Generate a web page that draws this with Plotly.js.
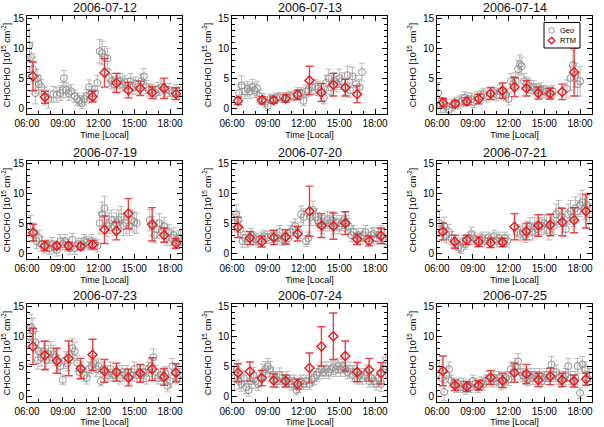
<!DOCTYPE html>
<html>
<head>
<meta charset="utf-8">
<script src="https://cdn.plot.ly/plotly-3.0.1.min.js"></script>
<style>
  html, body { margin: 0; padding: 0; background: #fff; }
  #chart { width: 604px; height: 427px; }
</style>
</head>
<body>
<div id="chart"></div>
<script>
// Daily CHOCHO vertical columns: geometric retrieval (Geo) vs radiative-transfer retrieval (RTM)
const dates = ["2006-07-12", "2006-07-13", "2006-07-14",
               "2006-07-19", "2006-07-20", "2006-07-21",
               "2006-07-23", "2006-07-24", "2006-07-25"];

const xTickVals = [6, 9, 12, 15, 18];
const xTickText = ["06:00", "09:00", "12:00", "15:00", "18:00"];
const yTickVals = [0, 5, 10, 15];
const seriesNames = ["Geo", "RTM"];

// ---- 2006-07-12 ----
const geoT_0712 = [6.2,6.35,6.5,6.7,6.9, 7.0,7.2,7.5,7.8,8.2, 8.5,8.8,9.0,9.1,9.3, 9.5,9.7,10.0,10.2,10.4, 10.6,10.8,11.0,11.2,11.4, 11.7,11.9,12.1,12.3,12.5, 12.75,12.9,13.1,13.3,13.6, 13.8,14.0,14.2,14.4,14.7, 14.9,15.1,15.3,15.6,15.8, 16.0,16.2,16.5,16.8,17.0, 17.3,17.6,17.9,18.2,18.5, 18.8];
const geoV_0712 = [10.5,8.5,6.5,2.5,5.0, 4.0,3.5,2.0,1.5,2.3, 2.2,2.5,3.0,5.0,3.0, 2.5,2.8,2.0,1.5,1.2, 0.8,1.5,2.0,3.5,2.5, 2.5,4.2,9.5,9.2,8.5, 8.3,5.0,4.5,4.0,4.5, 4.5,4.0,4.3,3.8,4.5, 3.5,4.0,3.5,4.5,5.3, 3.5,3.0,3.0,2.5,3.2, 3.5,3.0,3.0,2.5,2.8, 2.5];
const geoE_0712 = [2.7,2.5,2.0,1.8,1.5, 1.5,1.3,1.5,1.5,1.3, 1.2,1.2,1.3,1.3,1.2, 1.2,1.1,1.0,1.0,0.9, 0.9,1.0,1.1,1.2,1.1, 1.2,1.3,2.0,2.0,1.8, 1.7,1.4,1.3,1.3,1.3, 1.3,1.2,1.2,1.2,1.3, 1.2,1.2,1.1,1.2,1.3, 1.1,1.0,1.0,1.0,1.1, 1.2,1.1,1.1,1.0,1.1, 1.0];
const rtmT_0712 = [6.5, 7.5, 11.5, 12.5, 13.5, 14.5, 15.5, 16.5, 17.5, 18.5];
const rtmV_0712 = [5.3, 1.8, 1.9, 5.9, 4.2, 3.0, 3.3, 2.6, 3.3, 2.4];
const rtmE_0712 = [2.4, 1.0, 0.9, 2.4, 1.6, 1.3, 1.2, 1.0, 1.7, 1.0];

// ---- 2006-07-13 ----
const geoT_0713 = [6.6,6.8,7.1,7.3,7.5, 7.7,7.9,8.1,8.3,8.6, 8.8,9.0,9.2,9.4,9.7, 10.0,10.3,10.6,10.9,11.2, 11.5,11.8,12.0,12.2,12.4, 12.7,13.0,13.2,13.5,13.7, 13.9,14.1,14.3,14.6,14.8, 15.0,15.2,15.5,15.7,15.9, 16.1,16.4,16.7,16.9];
const geoV_0713 = [2.5,3.8,2.8,3.2,2.8, 3.5,3.0,3.3,2.0,1.5, 1.0,0.4,1.5,1.5,1.7, 1.8,1.8,1.8,2.0,2.0, 2.5,2.5,1.2,2.8,3.0, 3.5,3.6,3.3,3.0,1.7, 4.2,5.0,3.5,4.5,4.0, 5.0,4.5,3.5,5.5,3.0, 5.3,4.0,3.5,6.0];
const geoE_0713 = [1.5,1.6,1.2,1.2,1.2, 1.3,1.2,1.2,1.0,0.9, 0.8,0.8,0.8,0.8,0.8, 0.8,0.8,0.8,0.8,0.8, 0.9,0.9,0.8,1.0,1.0, 1.2,1.2,1.2,1.1,1.0, 1.3,1.5,1.3,1.4,1.3, 1.5,1.4,1.3,1.5,1.2, 1.5,1.4,1.3,1.5];
const rtmT_0713 = [6.5, 8.5, 9.5, 10.5, 11.5, 12.5, 13.5, 14.5, 15.5, 16.5];
const rtmV_0713 = [1.2, 1.3, 1.3, 1.6, 2.2, 4.6, 2.6, 3.9, 3.4, 2.3];
const rtmE_0713 = [0.6, 0.6, 0.5, 0.6, 0.8, 2.4, 1.5, 1.9, 1.4, 1.4];

// ---- 2006-07-14 ----
const geoT_0714 = [6.1,6.3,6.6,6.8,7.0, 7.3,7.6,7.9,8.1,8.3, 8.6,8.9,9.1,9.4,9.7, 9.9,10.2,10.5,10.8,11.0, 11.3,11.6,11.8,12.0,12.2, 12.4,12.6,12.8,12.95,13.1, 13.3,13.5,13.7,13.9,14.1, 14.3,14.5,14.7,14.9,15.1, 15.3,15.5,15.7,16.9,17.2, 17.4,17.6,17.8,18.0];
const geoV_0714 = [2.5,0.5,0.5,0.3,-0.3, 0.5,0.8,1.0,1.2,1.7, 1.5,1.5,1.0,1.8,2.0, 2.3,2.0,2.5,2.5,2.2, 2.8,2.5,2.2,1.5,4.5, 4.0,4.5,6.5,7.3,7.0, 4.5,4.0,3.7,3.5,3.5, 3.0,3.0,3.2,2.8,2.7, 2.5,2.5,2.8,3.2,5.0, 7.2,5.5,4.0,4.5];
const geoE_0714 = [1.8,1.3,1.2,1.1,1.0, 1.0,1.0,1.0,1.0,1.0, 1.0,1.0,0.9,1.0,1.0, 1.0,1.0,1.0,1.0,1.0, 1.1,1.0,1.0,1.0,1.3, 1.3,1.4,1.5,1.6,1.5, 1.3,1.2,1.2,1.1,1.1, 1.0,1.0,1.0,1.0,1.0, 1.0,1.0,1.0,1.5,2.0, 2.5,2.0,2.0,2.5];
const rtmT_0714 = [6.5, 7.5, 8.5, 9.5, 10.5, 11.5, 12.5, 13.5, 14.5, 15.5, 16.5, 17.5];
const rtmV_0714 = [0.9, 0.7, 1.1, 1.5, 2.4, 2.9, 3.5, 3.3, 2.5, 2.4, 2.7, 6.0];
const rtmE_0714 = [0.7, 0.5, 0.6, 0.8, 1.0, 1.3, 1.6, 1.3, 1.0, 0.9, 1.3, 4.0];

// ---- 2006-07-19 ----
const geoT_0719 = [6.3,6.6,6.8,7.0,7.2, 7.4,7.7,7.9,8.1,8.3, 8.5,8.8,9.0,9.2,9.4, 9.6,9.8,10.0,10.3,10.6, 10.8,11.0,11.2,11.4,11.7, 11.9,12.1,12.3,12.5,12.7, 12.9,13.1,13.3,13.5,13.7, 13.9,14.1,14.3,14.6,14.8, 15.0,15.2,16.3,16.5,16.7, 16.9,17.1,17.3,17.5,17.7, 17.9,18.1,18.3,18.5,18.7, 18.9];
const geoV_0719 = [4.5,3.5,2.0,2.5,1.5, 1.0,1.2,0.8,1.5,1.0, 0.5,2.0,1.5,2.0,1.3, 0.8,2.2,0.8,1.5,1.5, 2.0,1.8,1.5,2.0,1.5, 1.2,5.0,6.5,7.5,4.5, 5.0,5.5,4.5,5.0,5.5, 6.0,4.5,5.0,4.5,5.5, 5.2,5.0,5.5,4.5,3.0, 4.0,5.0,3.8,4.5,2.5, 3.5,2.5,3.0,2.0,2.5, 2.5];
const geoE_0719 = [1.8,1.5,1.3,1.3,1.2, 1.0,1.0,1.0,1.1,1.0, 1.0,1.1,1.0,1.1,1.0, 1.0,1.1,1.0,1.0,1.0, 1.1,1.0,1.0,1.1,1.0, 1.0,1.8,2.0,2.0,1.7, 1.7,1.7,1.6,1.7,1.7, 1.8,1.6,1.7,1.6,1.7, 1.7,1.7,1.8,1.6,1.3, 1.5,1.6,1.4,1.5,1.2, 1.3,1.2,1.2,1.1,1.2, 1.2];
const rtmT_0719 = [6.5, 7.5, 8.5, 9.5, 10.5, 11.5, 12.5, 13.5, 14.5, 16.5, 17.5, 18.5];
const rtmV_0719 = [3.4, 1.2, 1.2, 1.2, 1.1, 1.4, 3.9, 3.7, 6.6, 4.8, 3.0, 1.6];
const rtmE_0719 = [1.4, 0.8, 0.5, 0.6, 0.5, 0.7, 2.3, 1.5, 2.5, 2.8, 1.2, 0.8];

// ---- 2006-07-20 ----
const geoT_0720 = [6.2,6.35,6.5,6.7,6.9, 7.1,7.3,7.6,7.8,8.0, 8.2,8.5,8.7,9.0,9.3, 9.6,9.8,10.0,10.2,10.4, 10.7,10.9,11.1,11.3,11.6, 11.8,12.0,12.2,12.4,12.6, 12.8,13.0,13.2,13.4,13.6, 13.8,14.0,14.2,14.4,14.6, 14.8,15.0,15.2,15.4,15.6, 15.8,16.0,16.2,16.4,16.6, 16.8,17.0,17.2,17.4,17.7, 17.9,18.1,18.3,18.5,18.7, 18.9];
const geoV_0720 = [5.0,6.5,5.5,4.0,2.0, 2.5,2.0,3.0,2.5,2.3, 2.0,2.5,2.8,2.6,2.8, 2.5,2.5,3.5,2.3,2.5, 2.4,3.5,4.0,4.5,3.5, 6.5,6.0,2.0,2.5,6.0, 7.2,6.0,5.5,5.0,4.5, 5.0,5.5,5.0,5.5,4.5, 5.0,4.5,5.0,5.5,5.0, 4.5,3.0,3.5,2.5,3.0, 2.5,3.0,3.5,2.5,3.0, 3.2,2.5,3.0,3.5,2.5, 2.0];
const geoE_0720 = [1.5,1.6,1.5,1.3,1.1, 1.1,1.0,1.1,1.0,1.0, 1.0,1.0,1.0,1.0,1.0, 1.0,1.0,1.1,1.0,1.0, 1.0,1.1,1.2,1.2,1.1, 1.4,1.4,0.9,1.0,1.4, 1.5,1.4,1.3,1.3,1.3, 1.3,1.4,1.3,1.4,1.3, 1.3,1.3,1.3,1.4,1.3, 1.3,1.1,1.1,1.0,1.1, 1.0,1.1,1.1,1.0,1.1, 1.1,1.0,1.1,1.1,1.0, 1.0];
const rtmT_0720 = [6.5, 7.5, 8.5, 9.5, 10.5, 11.5, 12.5, 13.5, 14.5, 15.5, 16.5, 17.5, 18.5];
const rtmV_0720 = [4.3, 2.5, 1.9, 2.6, 2.7, 3.2, 7.0, 4.6, 4.5, 5.0, 2.3, 2.0, 2.9];
const rtmE_0720 = [1.7, 1.1, 0.9, 1.2, 1.2, 1.2, 4.2, 2.0, 2.2, 1.9, 0.9, 0.8, 1.3];

// ---- 2006-07-21 ----
const geoT_0721 = [6.2,6.4,6.6,6.8,7.0, 7.2,7.4,7.6,7.8,8.0, 8.2,8.4,8.7,8.9,9.1, 9.3,9.6,9.8,10.0,10.3, 10.5,10.8,11.0,11.2,11.4, 11.7,11.9,12.7,13.0,13.2, 13.4,13.6,13.8,14.0,14.2, 14.4,14.6,14.8,15.0,15.2, 15.4,15.6,15.8,16.0,16.2, 16.4,16.6,16.8,17.0,17.2, 17.4,17.6,17.8,18.0,18.2, 18.4,18.6,18.8];
const geoV_0721 = [5.0,3.5,4.5,3.0,3.5, 2.5,2.0,1.5,1.0,0.8, 2.0,1.5,2.5,3.2,2.5, 2.0,2.2,2.5,2.0,2.5, 2.2,2.8,2.0,2.5,2.0, 2.5,2.0,3.5,3.2,3.5, 3.0,4.0,4.5,3.5,4.5, 4.0,4.5,4.5,5.0,4.8, 3.5,5.0,4.5,6.5,7.0, 6.0,5.0,4.0,6.5,7.0, 6.0,7.5,7.0,8.0,8.5, 7.5,8.0,6.5];
const geoE_0721 = [2.2,1.5,1.5,1.3,1.3, 1.1,1.0,1.0,0.9,0.9, 1.0,0.9,1.0,1.1,1.0, 1.0,1.0,1.0,1.0,1.0, 1.0,1.0,1.0,1.0,1.0, 1.0,1.0,1.2,1.2,1.2, 1.2,1.3,1.4,1.3,1.4, 1.3,1.4,1.4,1.5,1.5, 1.3,1.5,1.4,1.7,1.8, 1.6,1.5,1.3,1.7,1.8, 1.6,1.9,1.8,1.9,2.0, 1.9,2.0,1.7];
const rtmT_0721 = [6.5, 7.5, 8.5, 9.5, 10.5, 11.5, 12.5, 13.5, 14.5, 15.5, 16.5, 17.5, 18.5];
const rtmV_0721 = [3.6, 1.9, 2.2, 1.9, 1.7, 1.8, 4.4, 3.6, 4.6, 4.7, 5.2, 5.5, 7.0];
const rtmE_0721 = [1.4, 1.1, 0.8, 0.8, 0.8, 0.7, 2.2, 1.4, 1.8, 1.8, 2.3, 2.1, 2.8];

// ---- 2006-07-23 ----
const geoT_0723 = [6.2,6.35,6.5,6.7,6.9, 7.0,7.2,7.4,7.6,7.8, 8.0,8.2,8.4,8.6,8.8, 9.0,9.2,9.4,9.6,9.8, 10.0,10.2,10.4,10.6,10.8, 11.0,11.2,11.4,11.6,11.8, 12.0,12.2,12.4,12.6,12.8, 13.0,13.2,13.4,13.6,13.8, 14.0,14.2,14.4,14.6,14.8, 15.0,15.2,15.4,15.6,15.8, 16.0,16.2,16.4,16.6,16.8, 17.0,17.2,17.4,17.6,17.8, 18.0,18.2,18.4,18.6,18.8];
const geoV_0723 = [10.0,11.5,11.0,9.0,6.0, 7.5,6.5,7.5,6.0,7.0, 7.5,7.0,6.5,5.5,5.0, 2.7,6.0,5.5,7.0,8.0, 7.5,5.5,4.0,4.5,3.5, 3.0,4.5,5.0,5.5,4.5, 5.0,2.5,4.5,4.0,3.5, 4.5,3.5,3.5,4.0,3.0, 4.0,3.5,4.0,3.0,3.5, 4.5,3.5,4.0,3.5,4.0, 3.0,4.5,5.0,6.5,4.0, 3.0,3.5,3.0,3.8,1.7, 2.5,5.0,4.0,3.0,3.5];
const geoE_0723 = [2.0,2.2,2.0,1.8,1.5, 1.6,1.5,1.6,1.4,1.5, 1.6,1.5,1.4,1.3,1.3, 0.8,1.4,1.3,1.5,1.6, 1.5,1.3,1.1,1.2,1.0, 1.0,1.2,1.2,1.3,1.2, 1.2,0.8,1.2,1.1,1.0, 1.2,1.0,1.0,1.1,1.0, 1.1,1.0,1.1,1.0,1.0, 1.2,1.0,1.1,1.0,1.1, 1.0,1.2,1.2,1.4,1.1, 1.0,1.0,1.0,1.1,1.0, 1.0,1.3,1.2,1.0,1.1];
const rtmT_0723 = [6.5, 7.5, 8.5, 9.5, 10.5, 11.5, 12.5, 13.5, 14.5, 15.5, 16.5, 17.5, 18.5];
const rtmV_0723 = [8.3, 6.8, 5.9, 6.3, 4.6, 6.9, 4.2, 4.0, 3.1, 3.8, 4.5, 3.2, 3.9];
const rtmE_0723 = [3.0, 2.4, 2.1, 2.9, 1.7, 2.6, 1.9, 1.5, 1.4, 1.5, 1.9, 1.4, 1.5];

// ---- 2006-07-24 ----
const geoT_0724 = [6.2,6.4,6.6,6.8,7.0, 7.2,7.4,7.6,7.8,8.0, 8.2,8.4,8.6,8.8,9.0, 9.2,9.4,9.6,9.8,10.0, 10.2,10.4,10.6,10.8,11.0, 11.2,11.4,11.6,11.8,12.0, 12.2,12.5,12.7,12.9,13.1, 13.3,13.5,13.7,13.9,14.1, 14.3,14.5,14.7,14.9,15.1, 15.3,15.5,15.7,15.9,16.1, 16.3,16.5,16.7,16.9,17.1, 17.3,17.5,17.7,17.9,18.1, 18.3,18.5,18.7,18.9];
const geoV_0724 = [3.0,4.5,2.5,2.0,3.0, 1.5,1.0,2.5,3.5,2.5, 2.0,3.0,4.0,4.5,5.0, 4.5,3.5,3.0,2.5,3.5, 3.0,2.5,3.0,2.5,2.0, 2.5,1.0,1.5,2.5,2.0, 2.5,2.0,2.8,3.0,3.5, 4.0,4.5,4.0,4.5,4.0, 4.5,4.8,4.5,5.0,4.5, 5.0,4.5,4.0,4.5,3.5, 4.0,3.0,3.5,3.0,3.5, 4.0,2.5,3.0,2.5,2.0, 3.0,2.0,4.5,5.0];
const geoE_0724 = [2.0,1.5,1.3,1.2,1.3, 1.1,1.0,1.2,1.3,1.2, 1.1,1.2,1.3,1.3,1.3, 1.3,1.2,1.1,1.1,1.2, 1.1,1.0,1.1,1.0,1.0, 1.0,0.8,0.9,1.0,0.9, 1.0,0.9,1.0,1.1,1.1, 1.2,1.2,1.1,1.2,1.1, 1.2,1.2,1.2,1.2,1.2, 1.2,1.2,1.1,1.2,1.1, 1.1,1.0,1.1,1.0,1.1, 1.2,1.0,1.1,1.0,1.0, 1.2,1.2,2.0,2.0];
const rtmT_0724 = [6.5, 7.5, 8.5, 9.5, 10.5, 11.5, 12.5, 13.5, 14.5, 15.5, 16.5, 17.5, 18.5];
const rtmV_0724 = [3.9, 4.1, 3.0, 2.6, 2.5, 2.0, 4.7, 8.3, 10.0, 6.7, 4.0, 4.4, 3.8];
const rtmE_0724 = [1.5, 1.6, 1.3, 1.1, 1.0, 0.8, 2.5, 3.3, 3.9, 2.5, 1.6, 1.9, 1.8];

// ---- 2006-07-25 ----
const geoT_0725 = [6.2,6.4,6.6,6.8,7.0, 7.2,7.4,7.6,7.8,8.0, 8.2,8.4,8.6,8.8,9.0, 9.2,9.4,9.7,9.9,10.1, 10.3,10.6,10.8,11.0,11.2, 11.4,11.6,11.8,12.0,12.2, 12.4,12.6,12.8,13.0,13.2, 13.4,13.6,13.8,14.0,14.2, 14.4,14.6,14.8,15.0,15.2, 15.4,15.6,15.8,16.0,16.2, 16.4,16.6,16.8,17.0,17.2, 17.4,17.6,17.8,18.0,18.2, 18.4,18.6,18.8];
const geoV_0725 = [4.5,3.0,0.7,3.5,4.5, 2.5,2.0,1.5,2.0,1.5, 2.0,1.2,1.8,1.5,2.5, 2.0,1.5,2.2,2.0,2.5, 3.0,2.5,3.0,2.5,3.0, 2.0,2.5,3.0,2.8,4.5, 4.0,5.0,5.8,4.0,3.5, 3.0,2.8,3.5,3.0,3.5, 3.0,3.5,2.5,3.0,3.5, 3.0,5.3,3.5,4.0,3.0, 2.5,3.0,3.5,5.0,3.0, 2.5,3.0,5.0,0.5,5.3, 4.5,3.0,3.5];
const geoE_0725 = [1.5,1.3,1.5,1.2,1.2, 1.0,1.0,0.9,1.0,0.9, 1.0,0.9,0.9,0.9,1.0, 1.0,0.9,1.0,1.0,1.0, 1.1,1.0,1.1,1.0,1.1, 1.0,1.0,1.1,1.1,1.2, 1.2,1.3,1.3,1.2,1.1, 1.1,1.1,1.1,1.1,1.1, 1.1,1.1,1.0,1.1,1.1, 1.1,1.3,1.1,1.2,1.1, 1.0,1.1,1.1,1.3,1.1, 1.0,1.1,1.3,0.9,1.3, 1.2,1.1,1.1];
const rtmT_0725 = [6.5, 7.5, 8.5, 9.5, 10.5, 11.5, 12.5, 13.5, 14.5, 15.5, 16.5, 17.5, 18.5];
const rtmV_0725 = [4.2, 1.8, 1.6, 1.8, 3.1, 2.6, 3.9, 3.7, 2.7, 3.3, 2.7, 2.5, 2.8];
const rtmE_0725 = [2.5, 0.9, 0.8, 0.8, 1.2, 1.2, 1.6, 1.6, 1.1, 1.4, 1.1, 1.0, 1.0];

const geoT = [geoT_0712, geoT_0713, geoT_0714, geoT_0719, geoT_0720, geoT_0721, geoT_0723, geoT_0724, geoT_0725];
const geoV = [geoV_0712, geoV_0713, geoV_0714, geoV_0719, geoV_0720, geoV_0721, geoV_0723, geoV_0724, geoV_0725];
const geoE = [geoE_0712, geoE_0713, geoE_0714, geoE_0719, geoE_0720, geoE_0721, geoE_0723, geoE_0724, geoE_0725];
const rtmT = [rtmT_0712, rtmT_0713, rtmT_0714, rtmT_0719, rtmT_0720, rtmT_0721, rtmT_0723, rtmT_0724, rtmT_0725];
const rtmV = [rtmV_0712, rtmV_0713, rtmV_0714, rtmV_0719, rtmV_0720, rtmV_0721, rtmV_0723, rtmV_0724, rtmV_0725];
const rtmE = [rtmE_0712, rtmE_0713, rtmE_0714, rtmE_0719, rtmE_0720, rtmE_0721, rtmE_0723, rtmE_0724, rtmE_0725];

// Page geometry (pixels) for the 3x3 panel grid
const W = 604, H = 427;
const colLeft = [27, 232, 437];
const panelW = 155;
const rowTop = [16, 161, 304];
const panelH = 98;
const titleMid = [8, 153, 296];

const FONT = "Liberation Sans, Arial, sans-serif";
const GEO_MARK = "#929292";
const GEO_BAR = "#b8b8b8";
const RTM_COLOR = "#e8191c";
const RTM_BAR = "rgba(235,30,33,0.85)";

const px = (x) => x / W;
const py = (y) => 1 - y / H;

const traces = [];
const layout = {
  width: W, height: H,
  margin: {l: 0, r: 0, t: 0, b: 0},
  paper_bgcolor: "#ffffff",
  plot_bgcolor: "#ffffff",
  font: {family: FONT, color: "#000", size: 10},
  showlegend: false,
  annotations: [],
  shapes: []
};

dates.forEach((d, i) => {
  const n = i + 1;
  const ax = n === 1 ? "" : String(n);
  const r = Math.floor(i / 3), c = i % 3;
  const x0 = px(colLeft[c]), x1 = px(colLeft[c] + panelW);
  const y1 = py(rowTop[r]), y0 = py(rowTop[r] + panelH);

  layout["xaxis" + ax] = {
    domain: [x0, x1], anchor: "y" + ax,
    range: [6, 19], tickmode: "array", tickvals: xTickVals, ticktext: xTickText,
    ticks: "inside", ticklen: 5, tickcolor: "#000", tickwidth: 1,
    minor: {tickmode: "linear", tick0: 6, dtick: 1, ticks: "inside", ticklen: 3, tickcolor: "#000"},
    showline: true, linecolor: "#000", linewidth: 1, mirror: "ticks",
    showgrid: false, zeroline: false, fixedrange: true,
    tickfont: {size: 10, family: FONT},
    title: {text: "Time [Local]", font: {size: 9, family: FONT}, standoff: 3}
  };
  layout["yaxis" + ax] = {
    domain: [y0, y1], anchor: "x" + ax,
    range: [-1, 15.4], tickmode: "array", tickvals: yTickVals,
    ticks: "inside", ticklen: 5, tickcolor: "#000", tickwidth: 1,
    minor: {tickmode: "linear", tick0: 0, dtick: 1, ticks: "inside", ticklen: 3, tickcolor: "#000"},
    showline: true, linecolor: "#000", linewidth: 1, mirror: "ticks",
    showgrid: false, zeroline: false, fixedrange: true,
    tickfont: {size: 10, family: FONT},
    title: {text: "CHOCHO [10<sup>15</sup> cm<sup>-2</sup>]", font: {size: 9, family: FONT}, standoff: 4}
  };

  layout.annotations.push({
    text: d, xref: "paper", yref: "paper",
    x: (x0 + x1) / 2, y: py(titleMid[r]), xanchor: "center", yanchor: "middle",
    showarrow: false, font: {size: 12.5, family: FONT, color: "#111"}
  });

  traces.push({
    type: "scatter", mode: "markers", name: seriesNames[0],
    x: geoT[i], y: geoV[i], xaxis: "x" + ax, yaxis: "y" + ax,
    marker: {symbol: "circle-open", size: 7, color: GEO_MARK, line: {width: 1, color: GEO_MARK}},
    error_y: {type: "data", array: geoE[i], visible: true, color: GEO_BAR, thickness: 1, width: 3},
    cliponaxis: true
  });
});

dates.forEach((d, i) => {
  const ax = i === 0 ? "" : String(i + 1);
  traces.push({
    type: "scatter", mode: "markers", name: seriesNames[1],
    x: rtmT[i], y: rtmV[i], xaxis: "x" + ax, yaxis: "y" + ax,
    marker: {symbol: "diamond-open", size: 7, color: RTM_COLOR, line: {width: 1.4, color: RTM_COLOR}},
    error_y: {type: "data", array: rtmE[i], visible: true, color: RTM_BAR, thickness: 1.4, width: 4},
    cliponaxis: true
  });
});

// Compact legend box in the 2006-07-14 panel
const lgL = 544, lgR = 580, lgT = 22.5, lgB = 48;
const rowY = [30.5, 40.5];
const symX = 551.5;
layout.shapes.push({
  type: "rect", xref: "paper", yref: "paper",
  x0: px(lgL), x1: px(lgR), y0: py(lgB), y1: py(lgT),
  line: {color: "#000", width: 1}, fillcolor: "#ffffff", layer: "above"
});
layout.shapes.push({
  type: "circle", xref: "paper", yref: "paper",
  x0: px(symX - 2.8), x1: px(symX + 2.8), y0: py(rowY[0] + 2.8), y1: py(rowY[0] - 2.8),
  line: {color: GEO_MARK, width: 1}, layer: "above"
});
const dR = 3.3;
layout.shapes.push({
  type: "path", xref: "paper", yref: "paper", layer: "above",
  path: `M ${px(symX)} ${py(rowY[1] - dR)} L ${px(symX + dR)} ${py(rowY[1])} L ${px(symX)} ${py(rowY[1] + dR)} L ${px(symX - dR)} ${py(rowY[1])} Z`,
  line: {color: RTM_COLOR, width: 1.4}
});
seriesNames.forEach((s, k) => {
  layout.annotations.push({
    text: s, xref: "paper", yref: "paper", x: px(557.5), y: py(rowY[k]),
    xanchor: "left", yanchor: "middle", showarrow: false,
    font: {size: 7.5, family: FONT, color: "#000"}
  });
});

Plotly.newPlot("chart", traces, layout, {staticPlot: true, displayModeBar: false});
</script>
</body>
</html>
